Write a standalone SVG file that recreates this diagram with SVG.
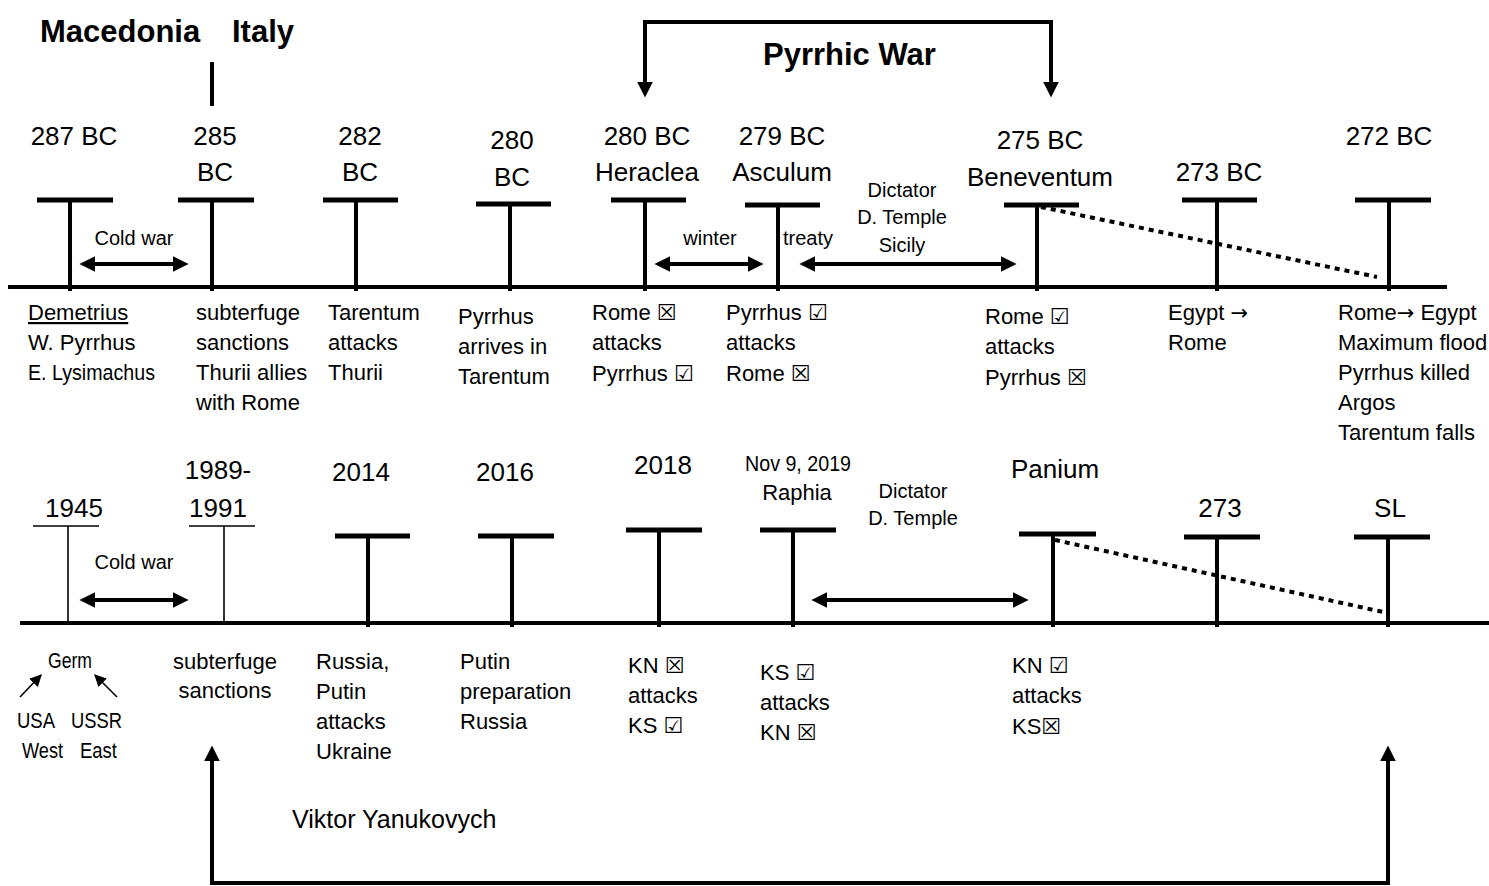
<svg xmlns="http://www.w3.org/2000/svg" width="1489" height="886" viewBox="0 0 1489 886">
  <defs>
    <style>
      .ln { stroke:#000; stroke-width:4; fill:none; }
      .bar { stroke:#000; stroke-width:5; }
      .tick { stroke:#000; stroke-width:4; }
      .thin { stroke:#000; stroke-width:1.6; fill:none; }
      .dot { stroke:#000; stroke-width:4; stroke-dasharray:5 5; fill:none; }
      text { font-family:"Liberation Sans", Arial, sans-serif; fill:#000; }
      .yr { font-size:26px; text-anchor:middle; }
      .lbl { font-size:22px; }
      .sm { font-size:20px; text-anchor:middle; }
      .head { font-size:31px; font-weight:bold; }
      .sym { font-family:"DejaVu Sans", sans-serif; font-size:22px; }
      .no { font-weight:bold; }
      .arr { font-family:"DejaVu Sans", sans-serif; font-size:21px; }
    </style>
    <marker id="ah" markerUnits="userSpaceOnUse" markerWidth="16" markerHeight="16" refX="10" refY="7" orient="auto-start-reverse" viewBox="0 0 14 14">
      <path d="M0,0 L14,7 L0,14 Z" fill="#000"/>
    </marker>
    <marker id="ahs" markerUnits="userSpaceOnUse" markerWidth="12" markerHeight="12" refX="9" refY="5" orient="auto" viewBox="0 0 10 10">
      <path d="M0,0 L10,5 L0,10 Z" fill="#000"/>
    </marker>
  </defs>
  <rect width="1489" height="886" fill="#fff"/>

  <!-- headings -->
  <g id="heading-regions">
    <text class="head" x="40" y="42">Macedonia</text>
    <text class="head" x="232" y="42">Italy</text>
  </g>
  <g id="heading-war">
    <text class="head" x="763" y="65">Pyrrhic War</text>
  </g>
  <g id="heading-yanukovych">
    <text x="292" y="828" style="font-size:25px">Viktor Yanukovych</text>
  </g>

  <!-- upper timeline events -->
  <g id="ev-287">
    <line class="bar" x1="37" y1="200" x2="113" y2="200"/>
    <line class="tick" x1="70" y1="202" x2="70" y2="291"/>
    <text class="yr" x="74" y="145">287 BC</text>
    <text class="lbl" x="28" y="320" text-decoration="underline">Demetrius</text>
    <text class="lbl" x="28" y="350">W. Pyrrhus</text>
    <text class="lbl" x="28" y="380" textLength="127" lengthAdjust="spacingAndGlyphs">E. Lysimachus</text>
  </g>
  <g id="ev-285">
    <line class="bar" x1="178" y1="200" x2="254" y2="200"/>
    <line class="tick" x1="212" y1="202" x2="212" y2="291"/>
    <text class="yr" x="215" y="145">285</text>
    <text class="yr" x="215" y="181">BC</text>
    <text class="lbl" x="196" y="320">subterfuge</text>
    <text class="lbl" x="196" y="350">sanctions</text>
    <text class="lbl" x="196" y="380">Thurii allies</text>
    <text class="lbl" x="196" y="410">with Rome</text>
  </g>
  <g id="ev-282">
    <line class="bar" x1="323" y1="200" x2="398" y2="200"/>
    <line class="tick" x1="356" y1="202" x2="356" y2="291"/>
    <text class="yr" x="360" y="145">282</text>
    <text class="yr" x="360" y="181">BC</text>
    <text class="lbl" x="328" y="320">Tarentum</text>
    <text class="lbl" x="328" y="350">attacks</text>
    <text class="lbl" x="328" y="380">Thurii</text>
  </g>
  <g id="ev-280">
    <line class="bar" x1="476" y1="204" x2="551" y2="204"/>
    <line class="tick" x1="510" y1="206" x2="510" y2="291"/>
    <text class="yr" x="512" y="149">280</text>
    <text class="yr" x="512" y="186">BC</text>
    <text class="lbl" x="458" y="324">Pyrrhus</text>
    <text class="lbl" x="458" y="354">arrives in</text>
    <text class="lbl" x="458" y="384">Tarentum</text>
  </g>
  <g id="ev-heraclea">
    <line class="bar" x1="611" y1="200" x2="686" y2="200"/>
    <line class="tick" x1="645" y1="202" x2="645" y2="291"/>
    <text class="yr" x="647" y="145">280 BC</text>
    <text class="yr" x="647" y="181">Heraclea</text>
    <text class="lbl" x="592" y="320">Rome <tspan class="sym no">☒</tspan></text>
    <text class="lbl" x="592" y="350">attacks</text>
    <text class="lbl" x="592" y="381">Pyrrhus <tspan class="sym">☑</tspan></text>
  </g>
  <g id="ev-asculum">
    <line class="bar" x1="745" y1="205" x2="820" y2="205"/>
    <line class="tick" x1="778" y1="207" x2="778" y2="291"/>
    <text class="yr" x="782" y="145">279 BC</text>
    <text class="yr" x="782" y="181">Asculum</text>
    <text class="lbl" x="726" y="320">Pyrrhus <tspan class="sym">☑</tspan></text>
    <text class="lbl" x="726" y="350">attacks</text>
    <text class="lbl" x="726" y="381">Rome <tspan class="sym no">☒</tspan></text>
  </g>
  <g id="ev-beneventum">
    <line class="bar" x1="1004" y1="205" x2="1079" y2="205"/>
    <line class="tick" x1="1037" y1="207" x2="1037" y2="291"/>
    <text class="yr" x="1040" y="149">275 BC</text>
    <text class="yr" x="1040" y="186">Beneventum</text>
    <text class="lbl" x="985" y="324">Rome <tspan class="sym">☑</tspan></text>
    <text class="lbl" x="985" y="354">attacks</text>
    <text class="lbl" x="985" y="385">Pyrrhus <tspan class="sym no">☒</tspan></text>
  </g>
  <g id="ev-273bc">
    <line class="bar" x1="1182" y1="200" x2="1257" y2="200"/>
    <line class="tick" x1="1217" y1="202" x2="1217" y2="291"/>
    <text class="yr" x="1219" y="181">273 BC</text>
    <text class="lbl" x="1168" y="320">Egypt <tspan class="arr">→</tspan></text>
    <text class="lbl" x="1168" y="350">Rome</text>
  </g>
  <g id="ev-272bc">
    <line class="bar" x1="1355" y1="200" x2="1431" y2="200"/>
    <line class="tick" x1="1389" y1="202" x2="1389" y2="291"/>
    <text class="yr" x="1389" y="145">272 BC</text>
    <text class="lbl" x="1338" y="320">Rome<tspan class="arr">→</tspan> Egypt</text>
    <text class="lbl" x="1338" y="350">Maximum flood</text>
    <text class="lbl" x="1338" y="380">Pyrrhus killed</text>
    <text class="lbl" x="1338" y="410">Argos</text>
    <text class="lbl" x="1338" y="440">Tarentum falls</text>
  </g>

  <!-- lower timeline events -->
  <g id="ev-1945">
    <line class="thin" x1="33" y1="526" x2="99" y2="526"/>
    <line class="thin" x1="68" y1="526" x2="68" y2="623"/>
    <text class="yr" x="74" y="517">1945</text>
    <text class="lbl" x="48" y="668" textLength="44" lengthAdjust="spacingAndGlyphs">Germ</text>
    <text class="lbl" x="17" y="728" textLength="38" lengthAdjust="spacingAndGlyphs">USA</text>
    <text class="lbl" x="71" y="728" textLength="51" lengthAdjust="spacingAndGlyphs">USSR</text>
    <text class="lbl" x="22" y="758" textLength="41" lengthAdjust="spacingAndGlyphs">West</text>
    <text class="lbl" x="80" y="758" textLength="37" lengthAdjust="spacingAndGlyphs">East</text>
  </g>
  <g id="ev-1989">
    <line class="thin" x1="189" y1="526" x2="255" y2="526"/>
    <line class="thin" x1="224" y1="526" x2="224" y2="623"/>
    <text class="yr" x="218" y="479">1989-</text>
    <text class="yr" x="218" y="517">1991</text>
    <text class="lbl" x="225" y="669" text-anchor="middle">subterfuge</text>
    <text class="lbl" x="225" y="698" text-anchor="middle">sanctions</text>
  </g>
  <g id="ev-2014">
    <line class="bar" x1="335" y1="536" x2="410" y2="536"/>
    <line class="tick" x1="368" y1="538" x2="368" y2="627"/>
    <text class="yr" x="361" y="481">2014</text>
    <text class="lbl" x="316" y="669">Russia,</text>
    <text class="lbl" x="316" y="699">Putin</text>
    <text class="lbl" x="316" y="729">attacks</text>
    <text class="lbl" x="316" y="759">Ukraine</text>
  </g>
  <g id="ev-2016">
    <line class="bar" x1="478" y1="536" x2="554" y2="536"/>
    <line class="tick" x1="512" y1="538" x2="512" y2="627"/>
    <text class="yr" x="505" y="481">2016</text>
    <text class="lbl" x="460" y="669">Putin</text>
    <text class="lbl" x="460" y="699">preparation</text>
    <text class="lbl" x="460" y="729">Russia</text>
  </g>
  <g id="ev-2018">
    <line class="bar" x1="626" y1="530" x2="702" y2="530"/>
    <line class="tick" x1="659" y1="532" x2="659" y2="627"/>
    <text class="yr" x="663" y="474">2018</text>
    <text class="lbl" x="628" y="673">KN <tspan class="sym no">☒</tspan></text>
    <text class="lbl" x="628" y="703">attacks</text>
    <text class="lbl" x="628" y="733">KS <tspan class="sym">☑</tspan></text>
  </g>
  <g id="ev-raphia">
    <line class="bar" x1="760" y1="530" x2="836" y2="530"/>
    <line class="tick" x1="793" y1="532" x2="793" y2="627"/>
    <text class="lbl" x="745" y="471" textLength="106" lengthAdjust="spacingAndGlyphs">Nov 9, 2019</text>
    <text class="lbl" x="797" y="500" text-anchor="middle">Raphia</text>
    <text class="lbl" x="760" y="680">KS <tspan class="sym">☑</tspan></text>
    <text class="lbl" x="760" y="710">attacks</text>
    <text class="lbl" x="760" y="740">KN <tspan class="sym no">☒</tspan></text>
  </g>
  <g id="ev-panium">
    <line class="bar" x1="1019" y1="534" x2="1096" y2="534"/>
    <line class="tick" x1="1053" y1="536" x2="1053" y2="627"/>
    <text class="yr" x="1055" y="478">Panium</text>
    <text class="lbl" x="1012" y="673">KN <tspan class="sym">☑</tspan></text>
    <text class="lbl" x="1012" y="703">attacks</text>
    <text class="lbl" x="1012" y="734">KS<tspan class="sym no">☒</tspan></text>
  </g>
  <g id="ev-273">
    <line class="bar" x1="1184" y1="537" x2="1260" y2="537"/>
    <line class="tick" x1="1217" y1="539" x2="1217" y2="627"/>
    <text class="yr" x="1220" y="517">273</text>
  </g>
  <g id="ev-sl">
    <line class="bar" x1="1354" y1="537" x2="1430" y2="537"/>
    <line class="tick" x1="1388" y1="539" x2="1388" y2="627"/>
    <text class="yr" x="1390" y="517">SL</text>
  </g>

  <!-- interval labels -->
  <g id="interval-labels">
    <text class="sm" x="134" y="245">Cold war</text>
    <text class="sm" x="710" y="245">winter</text>
    <text class="sm" x="808" y="245">treaty</text>
    <text class="sm" x="902" y="197">Dictator</text>
    <text class="sm" x="902" y="224">D. Temple</text>
    <text class="sm" x="902" y="252">Sicily</text>
    <text class="sm" x="134" y="569">Cold war</text>
    <text class="sm" x="913" y="498">Dictator</text>
    <text class="sm" x="913" y="525">D. Temple</text>
  </g>

  <!-- connectors -->
  <g id="connectors">
    <!-- axes -->
    <line class="ln" x1="8" y1="287" x2="1447" y2="287"/>
    <line class="ln" x1="20" y1="623" x2="1489" y2="623"/>
    <!-- marker above 285 BC -->
    <line class="ln" x1="212" y1="62" x2="212" y2="106"/>
    <!-- Pyrrhic War bracket -->
    <path class="ln" d="M645,93 L645,22 L1051,22 L1051,93" marker-start="url(#ah)" marker-end="url(#ah)"/>
    <!-- Yanukovych bracket -->
    <path class="ln" d="M212,750 L212,883 L1388,883 L1388,750" marker-start="url(#ah)" marker-end="url(#ah)"/>
    <!-- interval arrows, upper -->
    <line class="ln" x1="84" y1="264" x2="184" y2="264" marker-start="url(#ah)" marker-end="url(#ah)"/>
    <line class="ln" x1="659" y1="264" x2="759" y2="264" marker-start="url(#ah)" marker-end="url(#ah)"/>
    <line class="ln" x1="804" y1="264" x2="1012" y2="264" marker-start="url(#ah)" marker-end="url(#ah)"/>
    <!-- interval arrows, lower -->
    <line class="ln" x1="84" y1="600" x2="184" y2="600" marker-start="url(#ah)" marker-end="url(#ah)"/>
    <line class="ln" x1="816" y1="600" x2="1024" y2="600" marker-start="url(#ah)" marker-end="url(#ah)"/>
    <!-- West / East pointing to Germ -->
    <line class="thin" x1="20" y1="697" x2="41" y2="675" marker-end="url(#ahs)"/>
    <line class="thin" x1="117" y1="697" x2="95" y2="675" marker-end="url(#ahs)"/>
    <!-- dotted decline lines -->
    <line class="dot" x1="1041" y1="207" x2="1377" y2="277"/>
    <line class="dot" x1="1055" y1="540" x2="1383" y2="612"/>
  </g>
</svg>
